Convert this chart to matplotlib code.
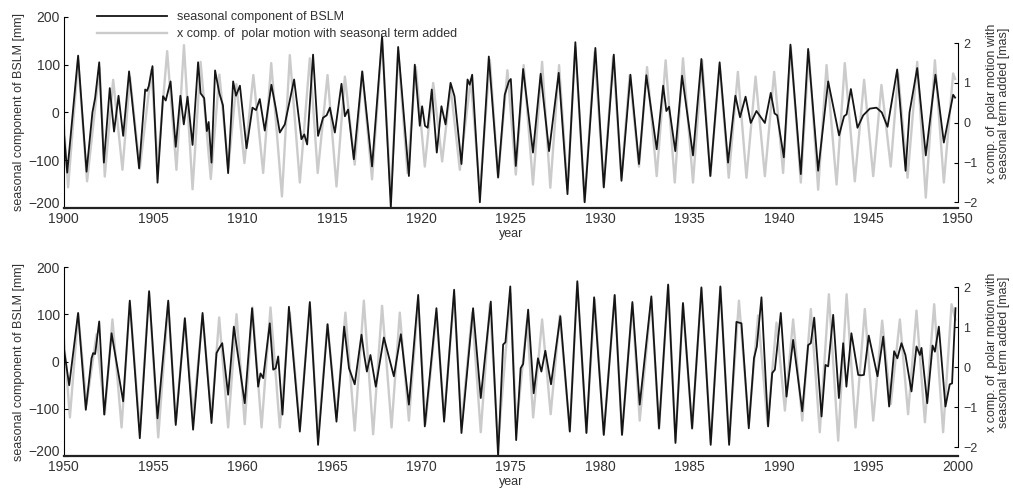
import numpy as np
import matplotlib
matplotlib.use("Agg")
import matplotlib.pyplot as plt

plt.rcParams['font.family'] = ['Liberation Sans', 'DejaVu Sans']

# turning points: (year, value)
# seasonal component of BSLM [mm], 1900-1950
bslm_1900 = [
    (1900.0, -40), (1900.19, -126), (1900.8, 119), (1901.27, -124), (1901.6, 0), (1901.75, 30),
    (1901.98, 105), (1902.24, -105), (1902.57, 51), (1902.81, -40), (1903.06, 35), (1903.32, -49),
    (1903.65, 86), (1904.21, -117), (1904.55, 48), (1904.65, 45), (1904.75, 55), (1904.96, 97),
    (1905.24, -147), (1905.55, 34), (1905.7, 25), (1905.97, 65), (1906.26, -72), (1906.52, 35),
    (1906.71, -25), (1906.92, 33), (1907.2, -68), (1907.51, 105), (1907.65, 40), (1907.85, 30),
    (1908.0, -39), (1908.1, -20), (1908.26, -105), (1908.46, 88), (1908.7, 40), (1908.9, 15),
    (1909.19, -127), (1909.47, 65), (1909.63, 35), (1909.85, 56), (1910.22, -75), (1910.55, 10),
    (1910.75, 5), (1910.96, 28), (1911.24, -38), (1911.61, 58), (1911.85, 10), (1912.08, -42),
    (1912.36, -25), (1912.88, 69), (1913.29, -56), (1913.45, -46), (1913.61, -67), (1913.94, 121),
    (1914.22, -49), (1914.5, -11), (1914.7, -6), (1914.88, 10), (1915.16, -42), (1915.53, 60),
    (1915.72, -8), (1915.9, 6), (1916.22, -98), (1916.69, 86), (1917.24, -113), (1917.8, 159),
    (1918.29, -199), (1918.7, 137), (1919.3, -133), (1919.63, 100), (1919.91, -28), (1920.04, 13),
    (1920.2, -28), (1920.35, -32), (1920.58, 48), (1920.86, -84), (1921.12, 13), (1921.35, -25),
    (1921.63, 62), (1921.85, 34), (1922.24, -108), (1922.58, 69), (1922.7, 58), (1922.84, 79),
    (1923.27, -188), (1923.77, 117), (1924.29, -136), (1924.66, 37), (1924.89, 65), (1925.0, 70),
    (1925.28, -112), (1925.69, 91), (1926.24, -84), (1926.67, 81), (1927.14, -81), (1927.68, 83),
    (1928.17, -171), (1928.61, 147), (1929.13, -188), (1929.73, 135), (1930.2, -157), (1930.76, 121),
    (1931.19, -143), (1931.69, 79), (1932.17, -108), (1932.58, 78), (1933.16, -77), (1933.52, 56),
    (1933.7, 3), (1933.85, 12), (1934.2, -81), (1934.58, 77), (1935.19, -90), (1935.66, 112),
    (1936.16, -133), (1936.68, 105), (1937.15, -105), (1937.56, 35), (1937.82, -10), (1938.13, 33),
    (1938.42, -22), (1938.74, 3), (1939.21, -22), (1939.54, 41), (1939.75, -2), (1939.9, -6),
    (1940.27, -94), (1940.64, 142), (1941.22, -129), (1941.63, 133), (1942.19, -122), (1942.75, 65),
    (1943.36, -48), (1943.64, -8), (1943.78, -4), (1944.02, 49), (1944.39, -32), (1944.71, -6),
    (1945.08, 8), (1945.45, 10), (1945.75, 0), (1946.07, -30), (1946.61, 90), (1947.08, -122),
    (1947.3, 0), (1947.73, 93), (1948.21, -90), (1948.75, 79), (1949.22, -63), (1949.74, 37),
    (1949.85, 31),
]

# x comp. of polar motion with seasonal term added [mas], 1900-1950
pm_1900 = [
    (1900.0, 0.0), (1900.24, -1.62), (1900.8, 1.57), (1901.3, -1.47), (1902.0, 1.39), (1902.29, -1.35),
    (1902.76, 1.08), (1903.28, -1.18), (1903.7, 1.15), (1904.25, -1.15), (1904.9, 1.33), (1905.25, -1.07),
    (1905.78, 1.8), (1906.3, -1.18), (1906.72, 1.95), (1907.2, -1.67), (1907.65, 1.53), (1908.22, -1.41),
    (1908.7, 1.21), (1909.2, -1.13), (1909.65, 0.97), (1910.1, -1.01), (1910.6, 1.2), (1911.15, -1.26),
    (1911.6, 1.5), (1912.2, -1.85), (1912.64, 1.7), (1913.2, -1.5), (1913.76, 1.62), (1914.2, -1.26),
    (1914.75, 1.2), (1915.25, -1.6), (1915.72, 1.16), (1916.27, -1.05), (1916.69, 1.28), (1917.24, -1.42),
    (1917.8, 2.1), (1918.29, -1.84), (1918.7, 1.8), (1919.22, -1.26), (1919.69, 1.4), (1920.19, -1.1),
    (1920.66, 1.0), (1921.16, -0.97), (1921.63, 0.9), (1922.15, -1.18), (1922.76, 1.1), (1923.27, -1.72),
    (1923.83, 1.58), (1924.29, -1.38), (1924.81, 1.32), (1925.28, -1.3), (1925.72, 1.45), (1926.24, -1.55),
    (1926.75, 1.53), (1927.21, -1.63), (1927.7, 1.45), (1928.17, -1.68), (1928.61, 1.9), (1929.13, -1.97),
    (1929.69, 1.78), (1930.2, -1.6), (1930.72, 1.66), (1931.19, -1.38), (1931.65, 1.2), (1932.17, -1.1),
    (1932.62, 1.4), (1933.16, -1.34), (1933.66, 1.57), (1934.17, -1.5), (1934.63, 1.62), (1935.19, -1.5),
    (1935.7, 1.57), (1936.16, -1.34), (1936.68, 1.45), (1937.19, -1.38), (1937.7, 1.28), (1938.18, -1.38),
    (1938.69, 1.16), (1939.21, -1.34), (1939.73, 1.28), (1940.23, -1.26), (1940.66, 1.9), (1941.22, -1.5),
    (1941.67, 1.78), (1942.19, -1.68), (1942.66, 1.45), (1943.22, -1.55), (1943.68, 1.5), (1944.24, -1.47),
    (1944.76, 1.08), (1945.27, -1.34), (1945.73, 0.95), (1946.25, -1.1), (1946.66, 1.24), (1947.19, -1.38),
    (1947.73, 1.53), (1948.21, -1.88), (1948.72, 1.57), (1949.22, -1.5), (1949.74, 1.24), (1949.85, 1.1),
]

# seasonal component of BSLM [mm], 1950-2000
bslm_1950 = [
    (1950.0, 29), (1950.3, -50), (1950.8, 103), (1951.23, -102), (1951.55, 7), (1951.64, 18),
    (1951.75, 16), (1951.98, 85), (1952.26, -112), (1952.67, 60), (1953.32, -84), (1953.69, 129),
    (1954.25, -162), (1954.77, 149), (1955.24, -120), (1955.84, 129), (1956.26, -134), (1956.77, 92),
    (1957.23, -144), (1957.76, 103), (1958.26, -130), (1958.54, 18), (1958.7, 29), (1958.86, 39),
    (1959.19, -70), (1959.51, 74), (1960.12, -88), (1960.53, 113), (1960.87, -53), (1961.0, -25),
    (1961.15, -35), (1961.52, 81), (1961.71, -17), (1961.85, -14), (1961.99, 11), (1962.23, -112),
    (1962.59, 116), (1963.2, -148), (1963.76, 126), (1964.22, -176), (1964.75, 79), (1965.25, -127),
    (1965.68, 74), (1965.95, -14), (1966.27, -48), (1966.65, 57), (1966.8, 14), (1966.95, -21),
    (1967.15, 14), (1967.45, -53), (1967.9, 51), (1968.46, -31), (1968.85, 58), (1969.3, -91),
    (1969.82, 141), (1970.19, -137), (1970.84, 113), (1971.27, -127), (1971.83, 152), (1972.24, -151),
    (1972.89, 113), (1973.32, -77), (1973.88, 127), (1974.29, -200), (1974.57, 36), (1974.7, 41),
    (1974.97, 159), (1975.3, -166), (1975.55, -14), (1975.69, -5), (1975.97, 110), (1976.28, -67),
    (1976.52, 7), (1976.71, -21), (1976.93, 23), (1977.25, -48), (1977.77, 96), (1978.3, -148),
    (1978.72, 170), (1979.23, -151), (1979.66, 136), (1980.2, -155), (1980.81, 141), (1981.22, -155),
    (1981.8, 126), (1982.21, -91), (1982.86, 138), (1983.29, -141), (1983.8, 163), (1984.21, -172),
    (1984.63, 124), (1985.14, -141), (1985.66, 157), (1986.18, -176), (1986.72, 159), (1987.21, -176),
    (1987.62, 84), (1987.9, 81), (1988.31, -141), (1988.6, 7), (1988.76, 32), (1989.02, 136),
    (1989.39, -137), (1989.62, -24), (1989.77, -17), (1990.1, 103), (1990.42, -74), (1990.79, 46),
    (1991.3, -105), (1991.63, 35), (1991.78, 39), (1991.97, 93), (1992.38, -116), (1992.6, -7),
    (1992.75, -10), (1993.03, 99), (1993.35, -77), (1993.59, 39), (1993.77, -53), (1994.05, 60),
    (1994.43, -28), (1994.6, -29), (1994.75, -28), (1995.02, 55), (1995.51, -31), (1995.83, 53),
    (1996.16, -95), (1996.44, 22), (1996.62, 7), (1996.85, 39), (1997.07, 14), (1997.41, -63),
    (1997.69, 32), (1997.88, 14), (1997.97, 29), (1998.29, -88), (1998.59, 34), (1998.72, 21),
    (1998.94, 74), (1999.31, -95), (1999.55, -48), (1999.68, -46), (1999.87, 113),
]

# x comp. of polar motion with seasonal term added [mas], 1950-2000
pm_1950 = [
    (1950.0, 0.75), (1950.34, -1.25), (1950.8, 1.33), (1951.27, -0.92), (1951.83, 0.83), (1952.29, -1.17),
    (1952.72, 1.2), (1953.23, -1.5), (1953.69, 1.62), (1954.25, -1.58), (1954.77, 1.87), (1955.28, -1.75),
    (1955.84, 1.62), (1956.26, -1.37), (1956.77, 1.2), (1957.23, -1.25), (1957.76, 1.3), (1958.26, -1.25),
    (1958.69, 1.25), (1959.19, -1.5), (1959.66, 1.33), (1960.12, -1.42), (1960.55, 1.5), (1961.06, -1.5),
    (1961.56, 1.5), (1962.08, -1.5), (1962.64, 1.37), (1963.2, -1.5), (1963.76, 1.58), (1964.22, -1.75),
    (1964.75, 1.08), (1965.25, -1.25), (1965.75, 1.37), (1966.27, -1.58), (1966.78, 1.67), (1967.3, -1.67),
    (1967.8, 1.54), (1968.33, -1.5), (1968.79, 1.37), (1969.3, -1.33), (1969.82, 1.67), (1970.23, -1.42),
    (1970.84, 1.37), (1971.27, -1.25), (1971.83, 1.79), (1972.24, -1.46), (1972.84, 1.37), (1973.32, -1.62),
    (1973.83, 1.58), (1974.29, -1.92), (1974.98, 1.85), (1975.31, -1.5), (1975.91, 1.17), (1976.25, -1.25),
    (1976.75, 1.2), (1977.23, -1.17), (1977.74, 1.3), (1978.3, -1.58), (1978.72, 2.1), (1979.23, -1.62),
    (1979.69, 1.7), (1980.2, -1.67), (1980.81, 1.79), (1981.22, -1.67), (1981.8, 1.58), (1982.21, -1.33),
    (1982.86, 1.7), (1983.29, -1.54), (1983.8, 2.04), (1984.21, -1.83), (1984.63, 1.58), (1985.14, -1.54),
    (1985.66, 1.96), (1986.18, -1.87), (1986.72, 2.0), (1987.21, -1.87), (1987.76, 1.67), (1988.31, -1.42),
    (1988.83, 1.3), (1989.36, -1.42), (1989.86, 1.12), (1990.33, -1.08), (1990.79, 1.2), (1991.3, -1.33),
    (1991.78, 1.46), (1992.28, -1.62), (1992.79, 1.83), (1993.31, -1.83), (1993.78, 1.83), (1994.28, -1.5),
    (1994.8, 1.46), (1995.27, -1.33), (1995.77, 1.17), (1996.25, -0.92), (1996.76, 1.2), (1997.22, -1.17),
    (1997.69, 1.42), (1998.16, -1.37), (1998.68, 1.58), (1999.18, -1.62), (1999.65, 1.58), (1999.87, 1.2),
]

left_ticks = [-200, -100, 0, 100, 200]
right_ticks = [-2, -1, 0, 1, 2]

fig = plt.figure(figsize=(10.13, 4.9), dpi=100)

panels = [
    # axes rect, bslm, pm, x range, right ylim
    ([0.063, 0.5755, 0.8825, 0.39], bslm_1900, pm_1900, (1900, 1950), (-2.14, 2.66)),
    ([0.063, 0.069, 0.8825, 0.386], bslm_1950, pm_1950, (1950, 2000), (-2.22, 2.51)),
]

lab_col = '#333333'
for rect, bslm, pm, (x0, x1), rlim in panels:
    ax = fig.add_axes(rect)
    ax2 = ax.twinx()
    bt, bv = np.array(bslm).T
    pt, pv = np.array(pm).T

    ax2.plot(pt, pv, color='#cbcbcb', lw=1.7, label='x comp. of  polar motion with seasonal term added')
    ax.plot(bt, bv, color='#151515', lw=1.3, label='seasonal component of BSLM')
    ax.set_zorder(ax2.get_zorder() + 1)
    ax.patch.set_visible(False)

    ax.set_xlim(x0, x1)
    ax.set_ylim(-200, 200)
    ax2.set_ylim(*rlim)
    ax.set_xticks(np.arange(x0, x1 + 1, 5))
    ax.set_yticks(left_ticks)
    ax2.set_yticks(right_ticks)

    ax.spines['top'].set_visible(False)
    ax2.spines['top'].set_visible(False)
    ax.spines['right'].set_visible(False)
    ax2.spines['left'].set_visible(False)
    ax2.spines['bottom'].set_visible(False)
    ax2.spines['right'].set_bounds(-2, 2)
    ax2.spines['right'].set_linewidth(0.8)
    ax.spines['left'].set_linewidth(0.8)
    ax.spines['bottom'].set_linewidth(1.6)
    ax.spines['bottom'].set_color('#222222')

    ax.tick_params(axis='x', length=0, pad=3, labelsize=10, labelcolor=lab_col)
    ax.tick_params(axis='y', direction='in', length=3, pad=3, labelsize=10, labelcolor=lab_col)
    ax2.tick_params(axis='y', direction='in', length=3, pad=4, labelsize=9, labelcolor=lab_col)
    # lift the lowest left label a little so it clears the first year label
    ax.yaxis.get_major_ticks()[0].label1.set_va('baseline')

    ax.set_xlabel('year', fontsize=9, color=lab_col, labelpad=1)
    ax.set_ylabel('seasonal component of BSLM [mm]', fontsize=9, color=lab_col, labelpad=2)
    ax2.set_ylabel('x comp. of  polar motion with\nseasonal term added [mas]', fontsize=9,
                   color=lab_col, labelpad=6, linespacing=1.0)
    ax2.yaxis.label.set_y(0.55)

    if x0 == 1900:
        h1, l1 = ax.get_legend_handles_labels()
        h2, l2 = ax2.get_legend_handles_labels()
        fig.legend(h1 + h2, l1 + l2, loc='upper left', bbox_to_anchor=(0.085, 1.0),
                   frameon=False, fontsize=9, handlelength=5.6, handletextpad=0.8,
                   labelspacing=0.4, labelcolor=lab_col)

fig.savefig('out.png', dpi=100)
